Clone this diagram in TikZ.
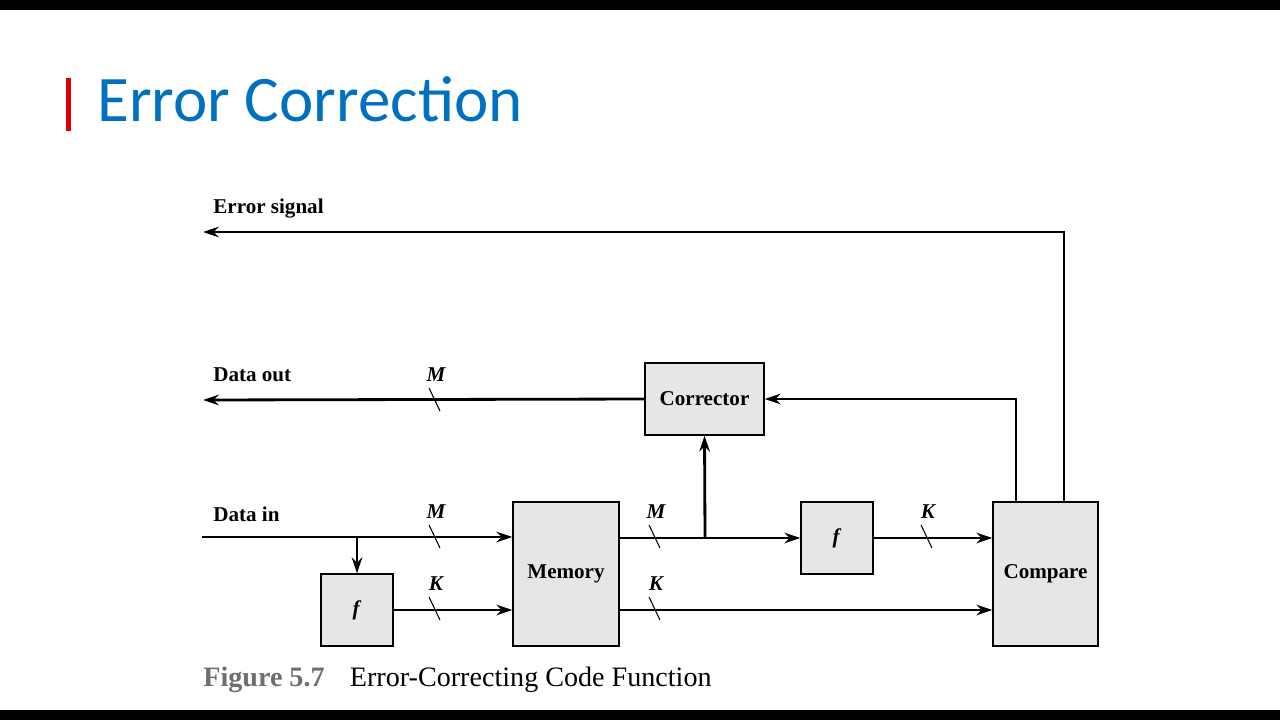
\documentclass[tikz,border=0pt]{standalone}
\usepackage{fontspec}
\setmainfont{Liberation Serif}
\newfontfamily\titlefont{Carlito}
\usetikzlibrary{arrows.meta,positioning}
\definecolor{titleblue}{RGB}{0,112,192}
\definecolor{boxgray}{RGB}{230,230,230}
\definecolor{capgray}{RGB}{110,110,110}
\tikzset{
  block/.style={draw,fill=boxgray,line width=0.8pt,font=\bfseries\large,inner sep=0pt},
  sig/.style={line width=1.6pt,-{Stealth[length=9pt,width=6pt]}},
  lbl/.style={font=\bfseries\large,anchor=base west,inner sep=0pt},
}
\newcommand\busmark[3]{%
  \draw[line width=0.6pt] ({#1-6},{#2-12}) -- ({#1+5},{#2+11});
  \node[font=\bfseries\itshape\large,inner sep=0pt] at ({#1+1},{#2-25}) {#3};}
\begin{document}
\begin{tikzpicture}[x=0.02cm,y=-0.02cm]
        % --- Frame and title ---
        \useasboundingbox (0,0) rectangle (1280,720);
        \fill[black] (0,0) rectangle (1280,10);
        \fill[black] (0,710) rectangle (1280,720);
        \fill[red!85!black] (66,78) rectangle (71,131);
        \node[anchor=base west,inner sep=0pt,text=titleblue,font=\titlefont\fontsize{37}{40}\selectfont] (title) at (97,121) {Error Correction};
        % ---

        % --- Blocks ---
        \node[block,minimum width=2.38cm,minimum height=1.44cm] (corr) at (704.5,399) {Corrector};
        \node[block,minimum width=2.12cm,minimum height=2.88cm] (mem) at (566,574) {Memory};
        \node[block,minimum width=1.44cm,minimum height=1.44cm] (fin) at (357,610) {\textit{f}};
        \node[block,minimum width=1.44cm,minimum height=1.44cm] (fout) at (837,538) {\textit{f}};
        \node[block,minimum width=2.1cm,minimum height=2.88cm] (comp) at (1045.5,574) {Compare};
        % ---

        % --- Signals ---
        \coordinate (errEnd) at (203,232);
        \coordinate (outEnd) at (203,400);
        \coordinate (inStart) at (202,537);
        \coordinate (errTap) at (1064,502);
        \coordinate (corTap) at (1016,502);
        \coordinate (inBranch) at (357,537);
        \coordinate (memBranch) at (705,537);
        \draw[sig] (errTap) |- (errEnd);
        \draw[sig] (corTap) |- (corr.east);
        \draw[sig] (corr.west) -- (outEnd);
        \draw[sig] (inStart) -- (inStart -| mem.west);
        \draw[sig] (inBranch) -- (fin.north);
        \draw[sig] (fin.east) -- (fin.east -| mem.west);
        \draw[sig] (mem.east |- fout.west) -- (fout.west);
        \draw[sig] (memBranch) -- (corr.south);
        \draw[sig] (fout.east) -- (fout.east -| comp.west);
        \draw[sig] (mem.east |- fin.east) -- (comp.west |- fin.east);
        % ---

        % --- Labels and bus widths ---
        \node[lbl] (lblErr) at (213,213) {Error signal};
        \node[lbl] (lblOut) at (213,381) {Data out};
        \node[lbl] (lblIn) at (213,521) {Data in};
        \busmark{435}{400}{M}
        \busmark{435}{537}{M}
        \busmark{435}{609}{K}
        \busmark{655}{537}{M}
        \busmark{655}{609}{K}
        \busmark{927}{537}{K}
        \node[anchor=base west,inner sep=0pt,font=\fontsize{16}{18}\selectfont] (cap) at (203,686)
          {\textcolor{capgray}{\textbf{Figure 5.7}}\hspace{0.9em}Error-Correcting Code Function};
        % ---
\end{tikzpicture}
\end{document}
